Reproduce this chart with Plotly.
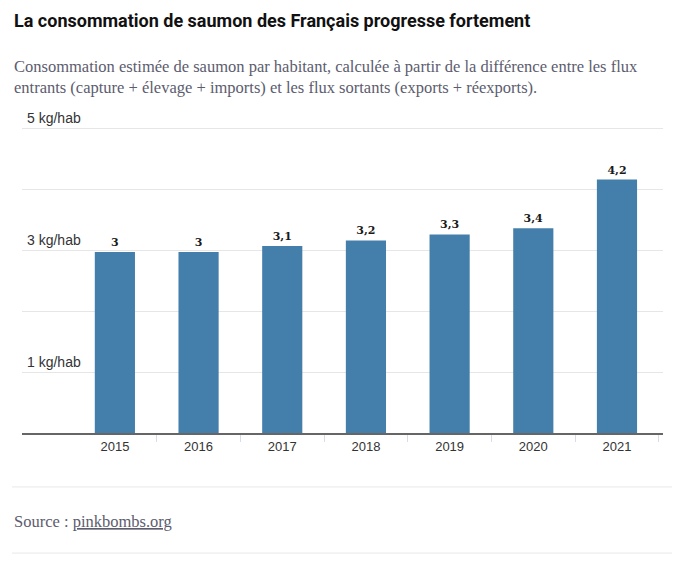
import plotly.graph_objects as go

years = ["2015", "2016", "2017", "2018", "2019", "2020", "2021"]
conso = [2.97, 2.97, 3.07, 3.16, 3.26, 3.36, 4.16]  # kg par habitant
labels = ["3", "3", "3,1", "3,2", "3,3", "3,4", "4,2"]

y_ticks = [0, 1, 2, 3, 4, 5]
y_ticktext = ["", "1 kg/hab", "", "3 kg/hab", "", "5 kg/hab"]

fig = go.Figure()

fig.add_trace(go.Bar(
    x = years,
    y = conso,
    text = labels,
    textposition = 'outside',
    cliponaxis = False,
    textfont = dict(family='DejaVu Serif', size=11, color='#1a1a1a', weight='bold'),
    marker = dict(color='#447fab', line=dict(width=0)),
    width = 0.48,
    hoverinfo = 'x+y',
))

# page has an 8px body margin, so the figure is sized 8px smaller
fig.update_layout(
    width = 672,
    height = 554,
    margin = dict(l=14, r=17, t=96, b=129),
    paper_bgcolor = 'white',
    plot_bgcolor = 'white',
    showlegend = False,
    font = dict(family='Liberation Sans', size=13, color='#333333'),
    xaxis = dict(
        type = 'category',
        range = [-1.11, 6.55],
        showgrid = False,
        showline = True,
        linecolor = '#666666',
        linewidth = 2,
        ticks = 'outside',
        tickson = 'boundaries',
        ticklen = 7,
        tickcolor = '#d8dce6',
        tickfont = dict(size=13, color='#333333'),
        fixedrange = True,
    ),
    yaxis = dict(
        range = [0, 5.4],
        tickvals = y_ticks,
        ticktext = y_ticktext,
        ticklabelposition = 'inside top',
        ticklabelstandoff = 2,
        showgrid = True,
        gridcolor = '#e6e6e6',
        gridwidth = 1,
        zeroline = False,
        showline = False,
        tickfont = dict(size=14, color='#333333'),
        fixedrange = True,
    ),
    shapes = [
        dict(type='line', xref='paper', yref='paper', x0=-0.0156, x1=1.014, y0=-0.164, y1=-0.164,
             line=dict(color='#e8e8e8', width=1)),
        dict(type='line', xref='paper', yref='paper', x0=-0.0156, x1=1.014, y0=-0.365, y1=-0.365,
             line=dict(color='#e8e8e8', width=1)),
    ],
    annotations = [
        dict(text='<b>La consommation de saumon des Français progresse fortement</b>',
             xref='paper', yref='paper', x=-0.0156, y=1.0, xanchor='left', yanchor='middle',
             yshift=84, showarrow=False, align='left',
             font=dict(family='Roboto', size=18, color='#111111')),
        dict(text='Consommation estimée de saumon par habitant, calculée à partir de la différence entre les flux<br>'
                  'entrants (capture + élevage + imports) et les flux sortants (exports + réexports).',
             xref='paper', yref='paper', x=-0.0156, y=1.0, xanchor='left', yanchor='middle',
             yshift=27, showarrow=False, align='left',
             font=dict(family='Liberation Serif', size=16.5, color='#5c5c6e')),
        dict(text="Source : <span style='text-decoration:underline'>pinkbombs.org</span>",
             xref='paper', yref='paper', x=-0.0156, y=0, xanchor='left', yanchor='middle',
             yshift=-88, showarrow=False, align='left',
             font=dict(family='Liberation Serif', size=16.5, color='#5c5c6e')),
    ],
)

fig.write_html("out.html")
